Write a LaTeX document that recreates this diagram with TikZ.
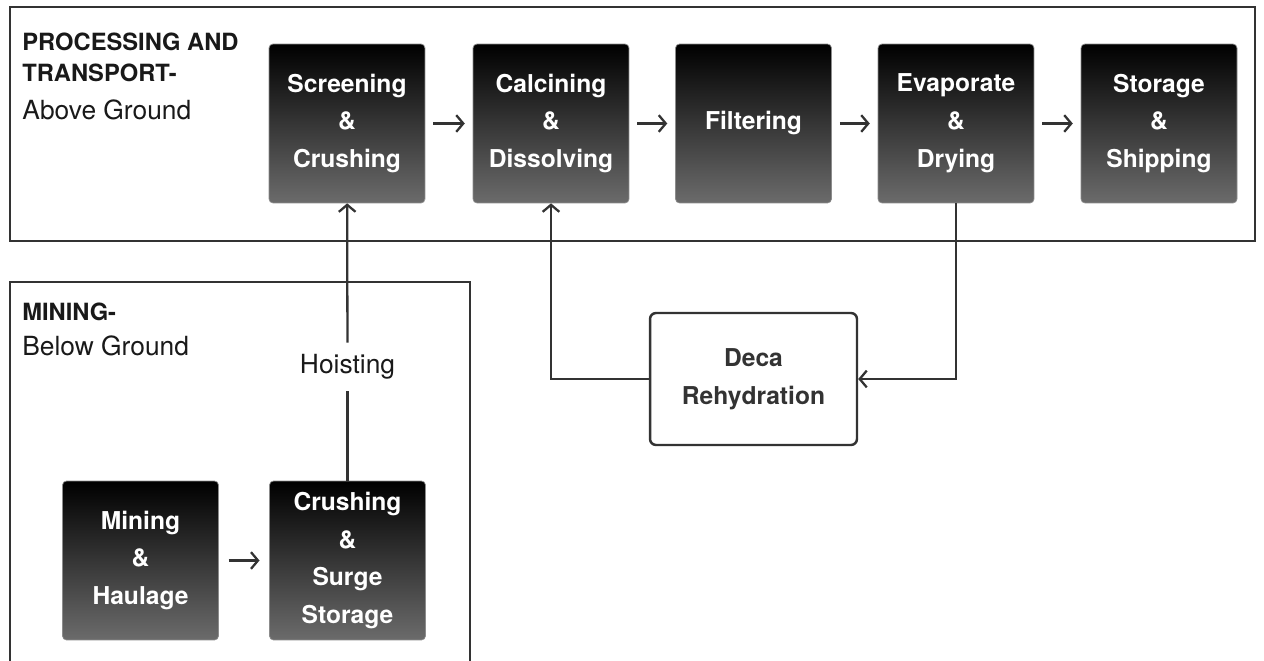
\documentclass[tikz,border=0pt]{standalone}
\usepackage{fontspec}
\setmainfont{TeX Gyre Heros}
\usetikzlibrary{arrows.meta}

\begin{document}
\begin{tikzpicture}[x=0.02cm, y=-0.02cm,
	darkbox/.style={rectangle, rounded corners=0.08cm, draw=black!45, line width=0.4pt, top color=black, bottom color=black!58, text=white, font=\bfseries\fontsize{14}{21.5}\selectfont, align=center, minimum width=3.12cm, minimum height=3.18cm, inner sep=0pt},
	decabox/.style={rectangle, rounded corners=0.12cm, draw=black!80, line width=1.4pt, fill=white, text=black!80, font=\bfseries\fontsize{14}{21.5}\selectfont, align=center, minimum width=4.14cm, minimum height=2.64cm},
	title/.style={inner sep=0pt, align=left, text=black!90, font=\fontsize{13.5}{17.6}\selectfont},
	frame/.style={draw=black!80, line width=1.4pt},
	link/.style={draw=black!80, line width=1.3pt},
	flow/.style={link, -{Straight Barb[length=4pt,width=9.5pt]}},
	short/.style={shorten <=4.5pt, shorten >=4.5pt}]

	\useasboundingbox (0,0) rectangle (1264,661);

	\draw[frame] (10,7) rectangle (1255,241);
	\draw[frame] (10,668) -- (10,282) -- (470,282) -- (470,668);

	\node[title, anchor=north west] (proctitle) at (22,33) {\textbf{PROCESSING AND}\\\textbf{TRANSPORT-}\\[3.9pt]{\fontsize{15}{17.6}\selectfont Above Ground}};
	\node[title, anchor=north west] (minetitle) at (22,303) {\textbf{MINING-}\\[2.2pt]{\fontsize{15}{17.6}\selectfont Below Ground}};

	\foreach \name/\x/\txt in {screen/347/{Screening\\\&\\Crushing}, calc/551/{Calcining\\\&\\Dissolving}, filt/753.5/{Filtering}, evap/956/{Evaporate\\\&\\Drying}, store/1159/{Storage\\\&\\Shipping}}
		\node[darkbox] (\name) at (\x,123.5) {\txt};
	\foreach \a/\b in {screen/calc, calc/filt, filt/evap, evap/store}
		\draw[flow, short] (\a) -- (\b);

	\node[darkbox] (mine) at (140.5,560.5) {Mining\\\&\\Haulage};
	\node[darkbox] (crush) at (347.5,560.5) {Crushing\\\&\\Surge\\Storage};
	\draw[flow, shorten <=5.5pt, shorten >=5.5pt] (mine) -- (crush);

	\node[inner xsep=2pt, inner ysep=6.5pt, text=black!90, font=\fontsize{15}{18}\selectfont] (hoist) at (347.5,367) {Hoisting};
	\draw[link] (crush) -- (hoist);
	\draw[flow] (hoist) -- (screen);

	\node[decabox] (deca) at (753.5,379) {Deca\\Rehydration};
	\draw[flow] (evap.south) |- (deca.east);
	\draw[flow] (deca.west) -| (calc.south);

\end{tikzpicture}
\end{document}
